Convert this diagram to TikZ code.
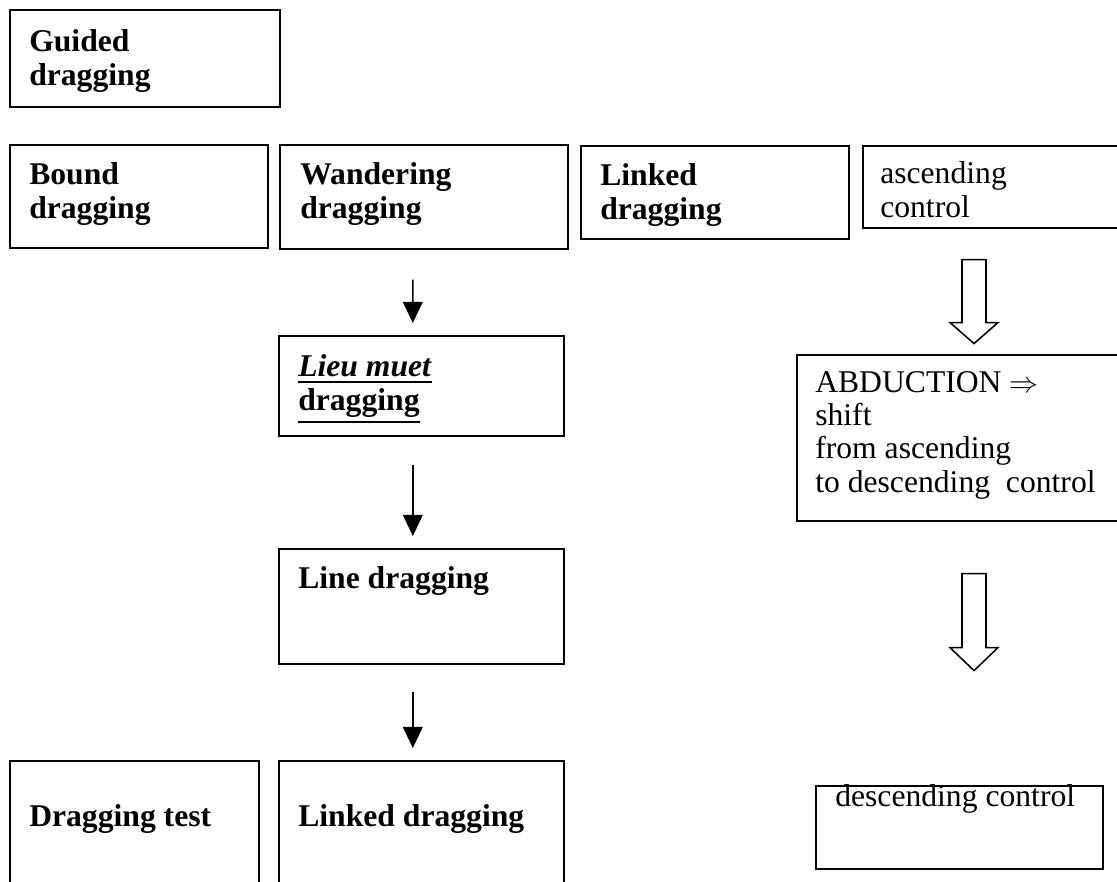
\documentclass[tikz,border=0pt]{standalone}
\usepackage{fontspec}
\setmainfont{Liberation Serif}
\usetikzlibrary{arrows.meta, positioning, calc}
\newcommand\ulthick[1]{\vtop{\hbox{#1}\kern2.5pt\hrule height 1.6pt}}

\begin{document}
\begin{tikzpicture}[
  x=0.025cm, y=-0.025cm,
  box/.style={rectangle, draw, line width=1.1pt, anchor=north west, inner sep=0pt},
  txt/.style={anchor=base west, align=left, inner sep=0pt, font=\fontsize{22.5}{23.7}\selectfont},
  bold/.style={txt, font=\fontsize{22.5}{23.7}\selectfont\bfseries},
  arr/.style={-{Triangle[length=15pt, width=14pt]}, line width=1.1pt},
  hollow/.style={draw, line width=1.1pt, fill=white}
]
  \useasboundingbox (0,0) rectangle (1117,881);
  \clip (0,0) rectangle (1117,881);

  % Top row (text nodes sit on their last line)
  \node[box, minimum width=6.75cm, minimum height=2.425cm] (guided) at (9,9) {};
  \node[box, minimum width=6.45cm, minimum height=2.575cm] (bound) at (9,144) {};
  \node[box, minimum width=7.2cm, minimum height=2.6cm] (wander) at (279,144) {};
  \node[box, minimum width=6.7cm, minimum height=2.325cm] (linked) at (580,145) {};
  \node[box, minimum width=6.7cm, minimum height=2.05cm] (asc) at (862,145) {};

  \node[bold] (guidedt) at ($(guided.north west)+(20,76)$) {Guided\\dragging};
  \node[bold] (boundt) at ($(bound.north west)+(20,74)$) {Bound\\dragging};
  \node[bold] (wandert) at ($(wander.north west)+(21,74)$) {Wandering\\dragging};
  \node[bold] (linkedt) at ($(linked.north west)+(20,74)$) {Linked\\dragging};
  \node[txt] (asct) at ($(asc.north west)+(18,72)$) {ascending\\control};

  % Middle column
  \node[box, minimum width=7.125cm, minimum height=2.5cm] (lieu) at (278,335) {};
  \node[box, minimum width=7.125cm, minimum height=2.875cm] (line) at (278,548) {};
  \node[bold] (lieut) at ($(lieu.north west)+(20,75)$) {\ulthick{\textit{Lieu muet}}\\\ulthick{dragging}};
  \node[bold] (linet) at ($(line.north west)+(20,40)$) {Line dragging};

  % Bottom row
  \node[box, minimum width=6.225cm, minimum height=4cm] (test) at (9,760) {};
  \node[box, minimum width=7.125cm, minimum height=4cm] (linked2) at (278,760) {};
  \node[bold] (testt) at ($(test.north west)+(20,66)$) {Dragging test};
  \node[bold] (linked2t) at ($(linked2.north west)+(20,66)$) {Linked dragging};

  % Right column
  \node[box, minimum width=8.35cm, minimum height=4.15cm] (abd) at (796,354) {};
  \node[box, minimum width=7.175cm, minimum height=2.075cm] (desc) at (815,785) {};
  \node[txt] (abdt) at ($(abd.north west)+(19,138)$) {ABDUCTION $\Rightarrow$\\shift\\from ascending\\to descending\ \ control};
  \node[txt] (desct) at ($(desc.north west)+(20,21)$) {descending control};

  % Arrows
  \draw[arr] ($(wander.south)+(-11,30)$) -- ($(lieu.north)+(-8.5,-12)$);
  \draw[arr] ($(lieu.south)+(-8.5,28)$) -- ($(line.north)+(-8.5,-12)$);
  \draw[arr] ($(line.south)+(-8.5,27)$) -- ($(linked2.north)+(-8.5,-12)$);

  \coordinate (h1) at ($(asc.south west)+(112,31)$);
  \coordinate (h2) at ($(abd.south west)+(178,52)$);
  \draw[hollow] (h1) ++(-12,0) -- ++(24,0) -- ++(0,63) -- ++(12,0) -- ++(-24,21) -- ++(-24,-21) -- ++(12,0) -- cycle;
  \draw[hollow] (h2) ++(-12,0) -- ++(24,0) -- ++(0,74) -- ++(12,0) -- ++(-24,23) -- ++(-24,-23) -- ++(12,0) -- cycle;
\end{tikzpicture}
\end{document}
